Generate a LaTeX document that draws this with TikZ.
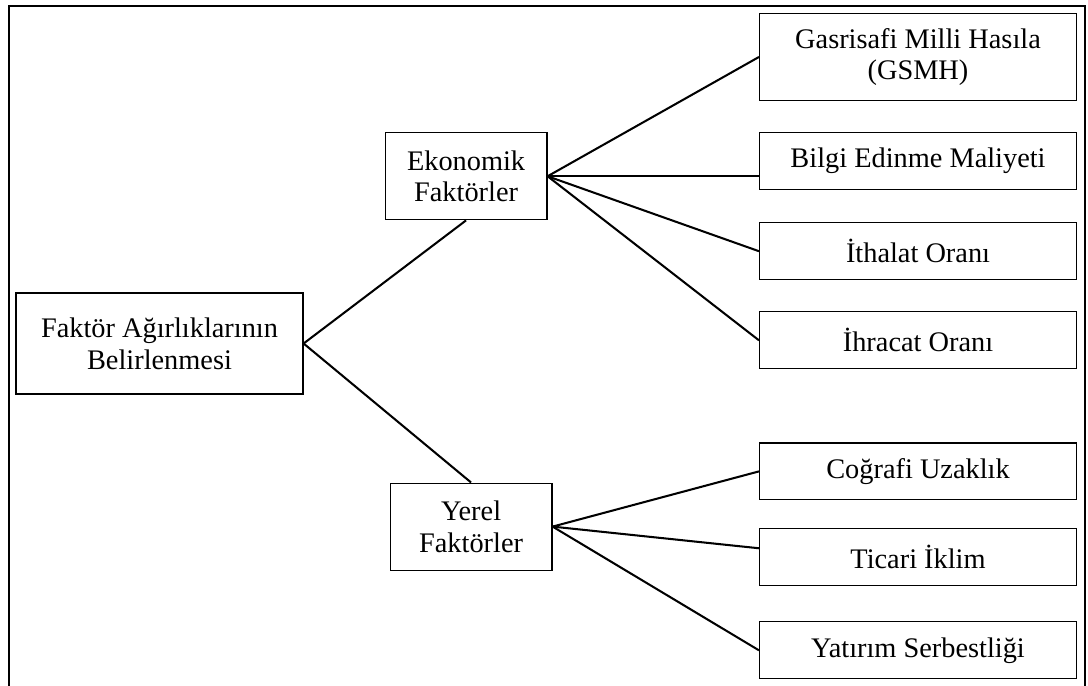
\documentclass[tikz,border=0pt]{standalone}
\usepackage{fontspec}
\setmainfont{Liberation Serif}
\usetikzlibrary{positioning}

\begin{document}
\begin{tikzpicture}[x=0.441pt, y=-0.441pt, every node/.style={align=center, font=\fontsize{12.5}{14}\selectfont},
  kutu/.style={draw, line width=0.5pt, inner sep=2pt},
  baglanti/.style={line width=0.9pt}]
\useasboundingbox (0,0) rectangle (1088,686);
\draw[line width=1.3pt] (9,686) -- (9,6) -- (1085,6) -- (1085,686);
\node[kutu, minimum width=126.6pt, minimum height=44.5pt] (A) at (159.5,343.5) {Faktör Ağırlıklarının\\Belirlenmesi};
\node[kutu, minimum width=71.4pt, minimum height=38.4pt, above right=31.8pt and 35.7pt of A] (B) {Ekonomik\\Faktörler};
\node[kutu, minimum width=71.4pt, minimum height=38.4pt, below right=38.8pt and 37.9pt of A] (C) {Yerel\\Faktörler};
\node[kutu, minimum width=139.8pt, minimum height=25.1pt, right=93.2pt of B.north east, anchor=north west] (D) {Bilgi Edinme Maliyeti};
\node[kutu, minimum width=139.8pt, minimum height=38.4pt, above=13.7pt of D] (E) {Gasrisafi Milli Hasıla\\(GSMH)};
\node[kutu, minimum width=139.8pt, minimum height=25.1pt, below=14.1pt of D] (F) {İthalat Oranı};
\node[kutu, minimum width=139.8pt, minimum height=25.1pt, below=13.7pt of F] (G) {İhracat Oranı};
\node[kutu, minimum width=139.8pt, minimum height=25.1pt, below=32.2pt of G] (H) {Coğrafi Uzaklık};
\node[kutu, minimum width=139.8pt, minimum height=25.1pt, below=12.3pt of H] (I) {Ticari İklim};
\node[kutu, minimum width=139.8pt, minimum height=25.1pt, below=15.4pt of I] (J) {Yatırım Serbestliği};
\draw[baglanti] (A.east) -- (B.south);
\draw[baglanti] (A.east) -- (C.north);
\draw[baglanti] (B.east) -- (E.west);
\draw[baglanti] (B.east) -- (B.east -| D.west);
\draw[baglanti] (B.east) -- (F.west);
\draw[baglanti] (B.east) -- (G.west);
\draw[baglanti] (C.east) -- (H.west);
\draw[baglanti] (C.east) -- ([yshift=4pt]I.west);
\draw[baglanti] (C.east) -- (J.west);
\end{tikzpicture}
\end{document}
